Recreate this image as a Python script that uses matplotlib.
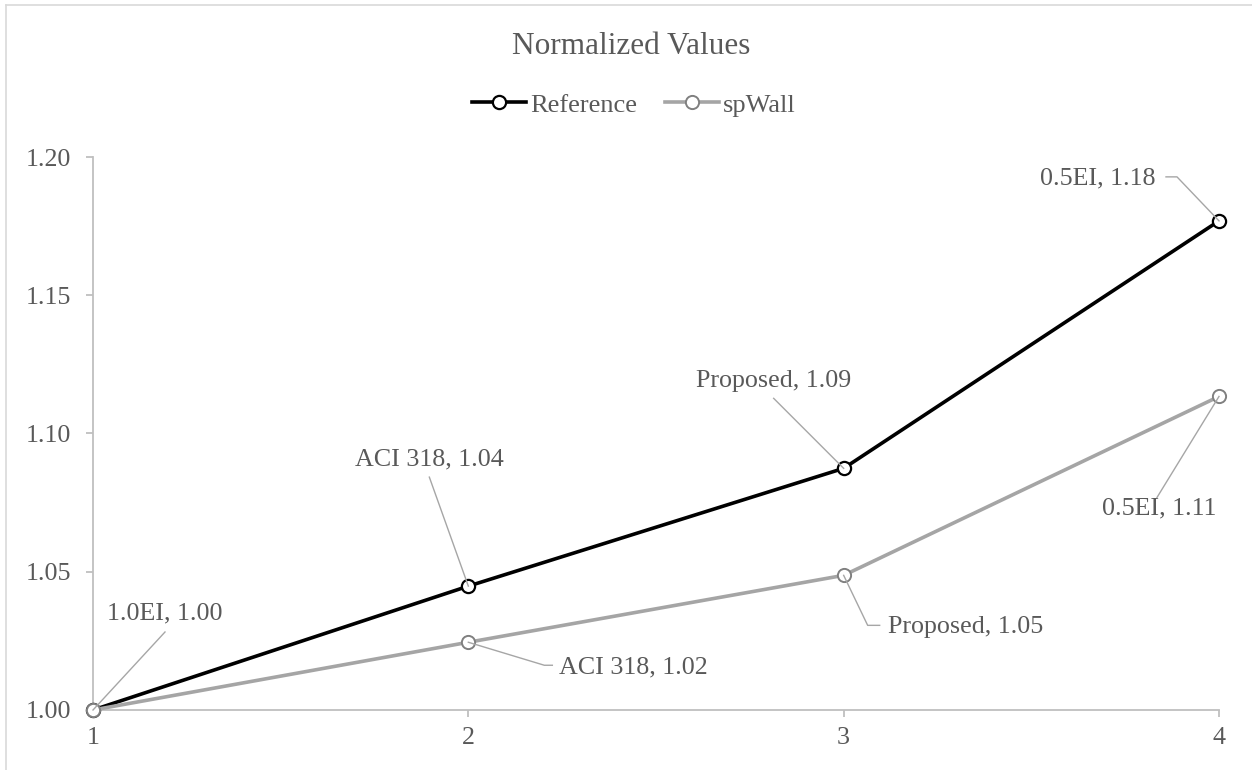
import matplotlib
matplotlib.use("Agg")
import matplotlib.pyplot as plt
from matplotlib.lines import Line2D
from matplotlib.transforms import IdentityTransform

# data
x_vals = [1, 2, 3, 4]
ref_vals = [1.000, 1.0448, 1.0874, 1.1769]
sp_vals = [1.000, 1.0245, 1.0487, 1.1134]
ref_names = ['1.0EI', 'ACI 318', 'Proposed', '0.5EI']
sp_names = ['1.0EI', 'ACI 318', 'Proposed', '0.5EI']
y_ticks = [1.00, 1.05, 1.10, 1.15, 1.20]
x_ticks = [1, 2, 3, 4]

W, H = 1252, 770
txt = '#595959'
axc = '#bfbfbf'
lead = '#a6a6a6'
plt.rcParams['font.family'] = ['Liberation Serif', 'DejaVu Serif']

fig = plt.figure(figsize=(W / 100, H / 100), dpi=100)
ax = fig.add_axes([93 / W, 1 - 710 / H, (1219 - 93) / W, (710 - 157) / H])

ax.plot(x_vals, ref_vals, color='black', lw=2.6, marker='o', ms=9.5,
        mfc='white', mec='black', mew=1.6, label='Reference', zorder=3, clip_on=False)
ax.plot(x_vals, sp_vals, color='#a5a5a5', lw=2.6, marker='o', ms=9.5,
        mfc='white', mec='#808080', mew=1.4, label='spWall', zorder=4, clip_on=False)

ax.set_xlim(1, 4)
ax.set_ylim(1.00, 1.20)
ax.set_xticks(x_ticks)
ax.set_xticklabels([str(v) for v in x_ticks])
ax.set_yticks(y_ticks)
ax.set_yticklabels(['%.2f' % v for v in y_ticks])
for s in ['top', 'right']:
    ax.spines[s].set_visible(False)
for s in ['left', 'bottom']:
    ax.spines[s].set_color(axc)
    ax.spines[s].set_linewidth(1.3)
ax.tick_params(axis='both', colors=axc, labelcolor=txt, labelsize=18.7, length=5, width=1.3)
ax.tick_params(axis='y', pad=11)
ax.tick_params(axis='x', pad=7)

# data labels: (series, names, index, text offset, ha, leader vertices) in pixels
label_specs = [
    (ref_vals, ref_names, 0, (72, 97), 'center', [(0, 0), (72, 78)]),
    (ref_vals, ref_names, 1, (-39, 127), 'center', [(0, 0), (-39, 109)]),
    (ref_vals, ref_names, 2, (-70, 87), 'center', [(0, 0), (-70, 70)]),
    (ref_vals, ref_names, 3, (-63, 42), 'right', [(0, 0), (-42, 44), (-53, 44)]),
    (sp_vals, sp_names, 1, (91, -25), 'left', [(0, 0), (76, -23), (84, -23)]),
    (sp_vals, sp_names, 2, (44, -52), 'left', [(0, 0), (24, -50), (36, -50)]),
    (sp_vals, sp_names, 3, (-60, -112), 'center', [(0, 0), (-62, -101)]),
]
for vals, names, i, off, ha, verts in label_specs:
    px, py = ax.transData.transform((x_vals[i], vals[i]))
    ax.annotate('%s, %.2f' % (names[i], vals[i]), xy=(x_vals[i], vals[i]),
                xytext=off, textcoords='offset pixels', ha=ha, va='center',
                fontsize=18.7, color=txt, annotation_clip=False)
    fig.add_artist(Line2D([px + v[0] for v in verts], [py + v[1] for v in verts],
                          transform=IdentityTransform(), color=lead, lw=1.0, zorder=2))

fig.text(631 / W, 1 - 47 / H, 'Normalized Values', ha='center', va='center',
         fontsize=22.5, color=txt)
leg = fig.legend(loc='center', bbox_to_anchor=(634 / W, 1 - 105 / H), ncol=2,
                 frameon=False, fontsize=19, handlelength=2.05, handletextpad=0.15,
                 columnspacing=1.05, labelcolor=txt)

# chart border (top and left visible)
fig.add_artist(Line2D([6 / W, 6 / W], [0, 1 - 5 / H], transform=fig.transFigure, color='#d9d9d9', lw=1.2))
fig.add_artist(Line2D([6 / W, 1], [1 - 5 / H, 1 - 5 / H], transform=fig.transFigure, color='#d9d9d9', lw=1.2))

fig.savefig('out.png', dpi=100)
